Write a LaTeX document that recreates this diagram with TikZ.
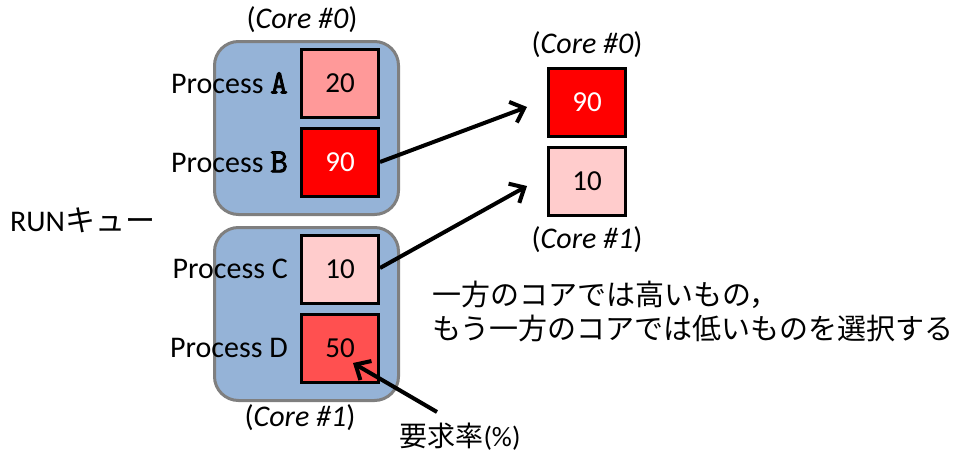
\documentclass[tikz,border=0pt]{standalone}
\usepackage{fontspec}
\setmainfont{Carlito}
\newfontfamily\jpfont{Noto Sans CJK JP}
\newfontfamily\letterfont[FakeBold=2.5]{Latin Modern Mono}
\usetikzlibrary{arrows.meta}
\definecolor{queueblue}{HTML}{95B3D7}
\definecolor{queueedge}{HTML}{7F7F7F}
\definecolor{rateA}{HTML}{FF9999}
\definecolor{rateB}{HTML}{FF0000}
\definecolor{rateC}{HTML}{FFCCCC}
\definecolor{rateD}{HTML}{FF5050}
\newcommand{\plabel}[1]{Process {\letterfont\fontsize{34}{34}\selectfont #1}}
\begin{document}
\begin{tikzpicture}[x=1pt,y=-1pt,
  queue/.style={draw=queueedge, line width=3pt, fill=queueblue, rounded corners=24pt,
    minimum width=184pt, minimum height=173pt, inner sep=0pt},
  rate/.style={draw=black, line width=3pt, minimum width=77pt, minimum height=68pt,
    inner sep=0pt, font=\fontsize{29}{31}\selectfont},
  lbl/.style={font=\fontsize{30}{32}\selectfont, inner sep=0pt},
  jlbl/.style={font=\fontsize{29}{31}\selectfont\jpfont, inner sep=0pt},
  move/.style={line width=4pt, -{Straight Barb[length=12pt,width=22pt]}}]
\useasboundingbox (0,0) rectangle (954,455);

% run queues of the two cores
\node[queue] (q0) at (306.5,128) {};
\node[queue] (q1) at (306.5,314) {};

% demand rates of the queued processes
\node[rate, fill=rateA] (A) at (340,83) {20};
\node[rate, fill=rateB, text=white] (B) at (340,162) {90};
\node[rate, fill=rateC] (C) at (340,269) {10};
\node[rate, fill=rateD] (D) at (340,348) {50};

\node[lbl, anchor=east] (pa) at (288,83) {\plabel{A}};
\node[lbl, anchor=east] (pb) at (288,162) {\plabel{B}};
\node[lbl, anchor=east] (pc) at (288,269) {Process C};
\node[lbl, anchor=east] (pd) at (288,348) {Process D};

\node[lbl] (c0) at (302,20) {({\itshape Core \#0})};
\node[lbl] (c1) at (300,418) {({\itshape Core \#1})};
\node[lbl, anchor=west] (run) at (10,220) {RUN{\jpfont キュー}};

% processes chosen for the two cores
\node[rate, fill=rateB, text=white] (S0) at (587,102) {90};
\node[rate, fill=rateC] (S1) at (587,181) {10};
\node[lbl] (s0) at (587,45) {({\itshape Core \#0})};
\node[lbl] (s1) at (587,240) {({\itshape Core \#1})};

\coordinate (t0) at (527,107);
\coordinate (t1) at (527,186);
\draw[move] (B.east) -- (t0);
\draw[move] ([yshift=1pt]C.east) -- (t1);

\node[jlbl, anchor=west] (n1) at (432,295) {一方のコアでは高いもの，};
\node[jlbl, anchor=west] (n2) at (432,328) {もう一方のコアでは低いものを選択する};

% pointer to a demand rate
\node[font=\fontsize{28}{30}\selectfont, inner sep=0pt] (req) at (460,437) {{\jpfont 要求率}(\%)};
\coordinate (rs) at (437,412);
\coordinate (rt) at (353,363);
\draw[move] (rs) -- (rt);
\end{tikzpicture}
\end{document}
